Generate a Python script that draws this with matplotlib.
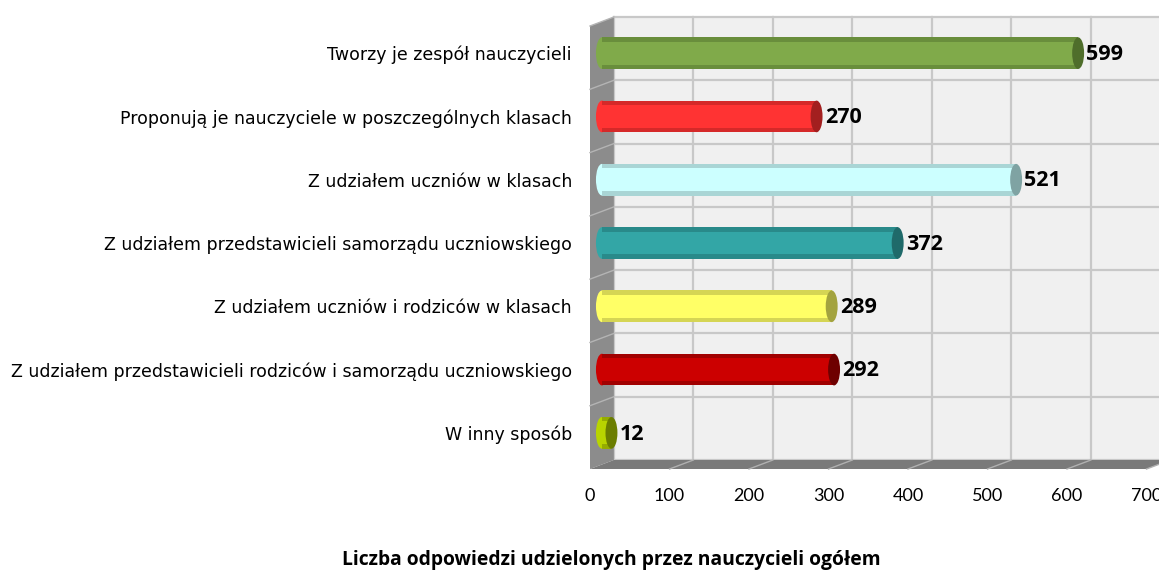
import matplotlib
matplotlib.use("Agg")
import matplotlib.pyplot as plt
from matplotlib.patches import Rectangle, Ellipse, Polygon

# data (top to bottom)
categories = [
    "Tworzy je zespół nauczycieli",
    "Proponują je nauczyciele w poszczególnych klasach",
    "Z udziałem uczniów w klasach",
    "Z udziałem przedstawicieli samorządu uczniowskiego",
    "Z udziałem uczniów i rodziców w klasach",
    "Z udziałem przedstawicieli rodziców i samorządu uczniowskiego",
    "W inny sposób",
]
values = [599, 270, 521, 372, 289, 292, 12]
bar_colors = ["#80aa4a", "#ff3333", "#ccffff", "#33a6a6", "#ffff66", "#cc0000", "#b8d400"]
cap_colors = ["#4f6e2b", "#a31f1f", "#7fa3a3", "#1f6a6a", "#a3a33f", "#6e0000", "#6b7d00"]
xticks = [0, 100, 200, 300, 400, 500, 600, 700]
title = "Liczba odpowiedzi udzielonych przez nauczycieli ogółem"

plt.rcParams['font.family'] = ['Lato', 'DejaVu Sans']

fig = plt.figure(figsize=(11.59, 5.70), dpi=100)
ax = fig.add_axes([590 / 1159, 1 - 469 / 570, 556.5 / 1159, 443 / 570])
ax.set_facecolor('none')
ax.set_xlim(0, 700)
ax.set_ylim(6.5, -0.5)

n = len(categories)
# depth offset of the 3d box in data units (back wall vs front plane)
dx, dy = 30, -0.142

# back wall
ax.add_patch(Rectangle((dx, -0.5 + dy), 760, n, facecolor="#f0f0f0",
                       edgecolor="none", zorder=0, clip_on=False))
for t in xticks + [800]:
    ax.plot([t + dx, t + dx], [-0.5 + dy, n - 0.5 + dy], color="#c8c8c8",
            lw=1.6, zorder=1, clip_on=False)
for k in range(n + 1):
    yy = k - 0.5 + dy
    ax.plot([dx, 760], [yy, yy], color="#c8c8c8", lw=1.6, zorder=1, clip_on=False)

# left wall
ax.add_patch(Polygon([(0, -0.5), (dx, -0.5 + dy), (dx, n - 0.5 + dy), (0, n - 0.5)],
                     closed=True, facecolor="#8c8c8c", edgecolor="none",
                     zorder=2, clip_on=False))
for k in range(n):
    yy = k - 0.5
    ax.plot([0, dx], [yy, yy + dy], color="#b4b4b4", lw=1.0, zorder=2, clip_on=False)

# floor
ax.add_patch(Polygon([(0, n - 0.5), (700, n - 0.5), (700 + dx, n - 0.5 + dy),
                      (dx, n - 0.5 + dy)], closed=True, facecolor="#7a7a7a",
                     edgecolor="none", zorder=2, clip_on=False))
for t in xticks[1:]:
    ax.plot([t, t + dx], [n - 0.5, n - 0.5 + dy], color="#b0b0b0", lw=1.0,
            zorder=2, clip_on=False)

# cylinders, placed half way into the depth
h = 0.5
cw = 15
for i, (v, c, cc) in enumerate(zip(values, bar_colors, cap_colors)):
    y = i + dy / 2
    x0 = dx / 2
    ax.add_patch(Ellipse((x0, y), cw, h, facecolor=c, edgecolor="none", zorder=3))
    ax.add_patch(Rectangle((x0, y - h / 2), v, h, facecolor=c, edgecolor="none", zorder=3))
    ax.add_patch(Rectangle((x0, y - h / 2), v, 0.07, facecolor=cc, alpha=0.45,
                           edgecolor="none", zorder=3))
    ax.add_patch(Rectangle((x0, y + h / 2 - 0.07), v, 0.07, facecolor=cc, alpha=0.45,
                           edgecolor="none", zorder=3))
    ax.add_patch(Ellipse((x0 + v, y), cw, h, facecolor=cc, edgecolor="none", zorder=4))
    ax.text(x0 + v + cw / 2 + 3, y + 0.02, str(v), ha="left", va="center",
            fontsize=15.5, fontweight="bold", color="black", zorder=5,
            family=['Open Sans', 'DejaVu Sans'])

ax.set_xticks(xticks)
ax.set_xticklabels([str(t) for t in xticks], fontsize=13)
ax.set_yticks([i + dy / 2 for i in range(n)])
ax.set_yticklabels(categories, fontsize=12.5, family=['DejaVu Sans'])
ax.tick_params(axis="x", length=0, pad=14)
ax.tick_params(axis="y", length=0, pad=13)
for s in ax.spines.values():
    s.set_visible(False)

fig.text(611 / 1159, 1 - 560 / 570, title, ha="center", va="center",
         fontsize=13.9, fontweight="bold", family=['Open Sans', 'DejaVu Sans'])

fig.savefig("out.png", dpi=100)
